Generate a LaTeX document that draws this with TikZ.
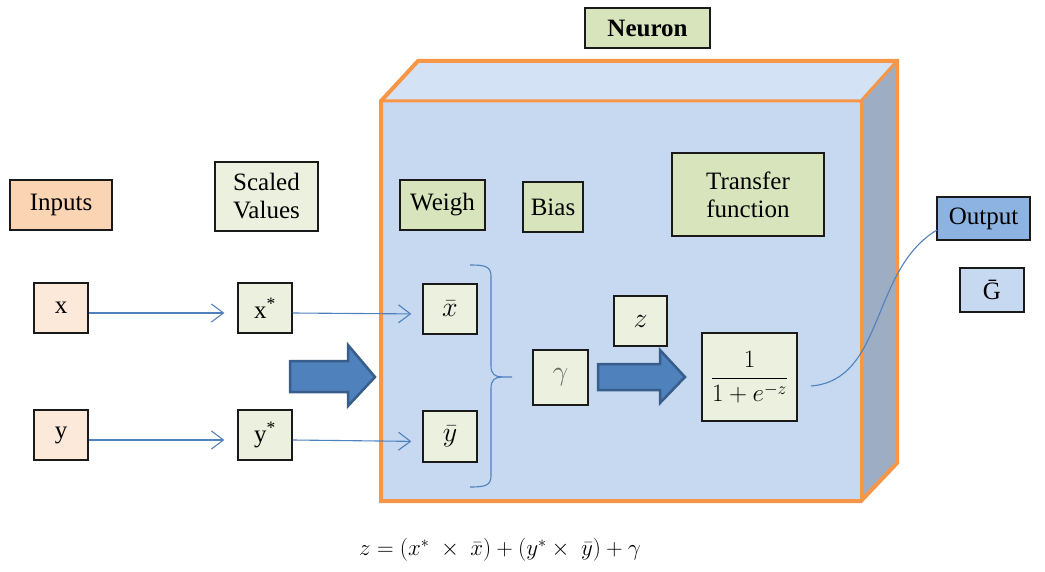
\RequirePackage{fix-cm}
\documentclass[tikz,border=0pt]{standalone}
\usepackage{fontspec}
\setmainfont{Liberation Serif}
\usetikzlibrary{arrows.meta}
\definecolor{orangeb}{HTML}{F79646}
\definecolor{cubefront}{HTML}{C6D9F1}
\definecolor{cubetop}{HTML}{D3E2F5}
\definecolor{cubeside}{HTML}{9DADC4}
\definecolor{peach}{HTML}{FBD4B4}
\definecolor{peachl}{HTML}{FDE9D9}
\definecolor{greenl}{HTML}{EBF1DE}
\definecolor{greend}{HTML}{D7E4BC}
\definecolor{outblue}{HTML}{8DB3E2}
\definecolor{gblue}{HTML}{C6D9F1}
\definecolor{arrowblue}{HTML}{4F81BD}
\definecolor{arrowdark}{HTML}{385D8A}
\definecolor{boxline}{HTML}{1A1A1A}
\tikzset{
  box/.style={draw=boxline, line width=1.3pt, inner sep=0pt, align=center,
    font=\fontsize{25}{28}\selectfont},
  mathbox/.style={box, font=\fontsize{28}{32}\selectfont},
  thinarrow/.style={draw=arrowblue, line width=1.1pt,
    -{Straight Barb[length=12pt,width=18pt,line width=1.1pt]}},
  thinline/.style={draw=arrowblue, line width=1.1pt},
  bigarrow/.style={fill=arrowblue, draw=arrowdark, line width=2.5pt, line join=miter},
}
\begin{document}
\begin{tikzpicture}[x=1pt,y=-1pt]
\useasboundingbox (0,0) rectangle (1045,572);
% cube
\fill[cubefront] (381,101) rectangle (861,501);
\fill[cubetop] (381,101) -- (418,61) -- (897,61) -- (861,101) -- cycle;
\fill[cubeside] (861,101) -- (897,61) -- (897,463) -- (861,501) -- cycle;
\draw[orangeb, line width=4pt, line join=miter]
  (381,101) -- (418,61) -- (897,61) -- (897,463) -- (861,501) -- (381,501) -- cycle;
\draw[orangeb, line width=3pt] (381,101) -- (861,101) -- (897,61);
\draw[orangeb, line width=3pt] (861,101) -- (861,501);
% header boxes
\node[box, fill=greend, minimum width=125pt, minimum height=40pt, font=\fontsize{25}{28}\selectfont\bfseries] (neuron) at (647.5,28) {Neuron};
\node[box, fill=peach, minimum width=102pt, minimum height=50pt] (inputs) at (61,205) {Inputs};
\node[box, fill=greenl, minimum width=103pt, minimum height=69pt] (scaled) at (266.5,196.5) {Scaled\\Values};
\node[box, fill=greend, minimum width=85pt, minimum height=50pt] (weigh) at (442.5,205) {Weigh};
\node[box, fill=greend, minimum width=60pt, minimum height=50pt] (bias) at (553,207) {Bias};
\node[box, fill=greend, minimum width=152pt, minimum height=83pt] (transfer) at (748,194.5) {Transfer\\function};
\node[box, fill=outblue, minimum width=93pt, minimum height=43pt] (output) at (983.5,218.5) {Output};
\node[box, fill=gblue, minimum width=64pt, minimum height=44pt] (gbar) at (992,290) {\=G};
% value boxes
\node[box, fill=peachl, minimum width=54pt, minimum height=50pt] (x) at (61,308) {x};
\node[box, fill=peachl, minimum width=54pt, minimum height=50pt] (y) at (61,435) {y};
\node[box, fill=greenl, minimum width=54pt, minimum height=50pt] (xs) at (265,308) {x\textsuperscript{*}};
\node[box, fill=greenl, minimum width=54pt, minimum height=50pt] (ys) at (265,435) {y\textsuperscript{*}};
\node[mathbox, fill=greenl, minimum width=54pt, minimum height=50pt] (xb) at (450,309) {$\bar{x}$};
\node[mathbox, fill=greenl, minimum width=54pt, minimum height=51pt] (yb) at (450,436.5) {$\bar{y}$};
\node[mathbox, fill=greenl, minimum width=55pt, minimum height=55pt, text=black!60] (gamma) at (560.5,377.5) {$\gamma$};
\node[mathbox, fill=greenl, minimum width=53pt, minimum height=50pt] (z) at (640.5,321) {$z$};
\node[box, fill=greenl, minimum width=95pt, minimum height=88pt, font=\fontsize{25}{30}\selectfont] (frac) at (749.5,377) {$\displaystyle\frac{1}{1+e^{-z}}$};
% thin arrows
\draw[thinarrow, shorten >=13pt] ([yshift=-5pt]x.east) -- ([yshift=-5pt]xs.west);
\draw[thinarrow, shorten >=13pt] ([yshift=-5pt]y.east) -- ([yshift=-5pt]ys.west);
\draw[thinarrow, shorten >=11pt] ([yshift=-5pt]xs.east) -- ([yshift=-5pt]xb.west);
\draw[thinarrow, shorten >=11pt] ([yshift=-5pt]ys.east) -- ([yshift=-5pt]yb.west);
% big arrows
\draw[bigarrow] (290,361) -- (348,361) -- (348,345) -- (375,377) -- (348,406) -- (348,392) -- (290,392) -- cycle;
\draw[bigarrow] (598,364) -- (660,364) -- (660,350) -- (685,377) -- (660,403) -- (660,390) -- (598,390) -- cycle;
% brace
\draw[thinline] (470,265) .. controls (484,265) and (491,266) .. (491,276)
  -- (491,366) .. controls (491,374) and (495,377) .. (502,377) -- (512,377);
\draw[thinline] (470,487) .. controls (484,487) and (491,486) .. (491,476)
  -- (491,388) .. controls (491,380) and (495,377) .. (502,377);
% curve to output
\coordinate (cs) at (811,386);
\coordinate (ce) at (937,230);
\draw[thinline] (cs) .. controls (885,380) and (870,270) .. (ce);
% formula
\node[font=\fontsize{23}{28}\selectfont] (formula) at (500,550) {$z = (x^{*}\;\times\;\bar{x}) + (y^{*}\times\;\bar{y}) + \gamma$};
\end{tikzpicture}
\end{document}
